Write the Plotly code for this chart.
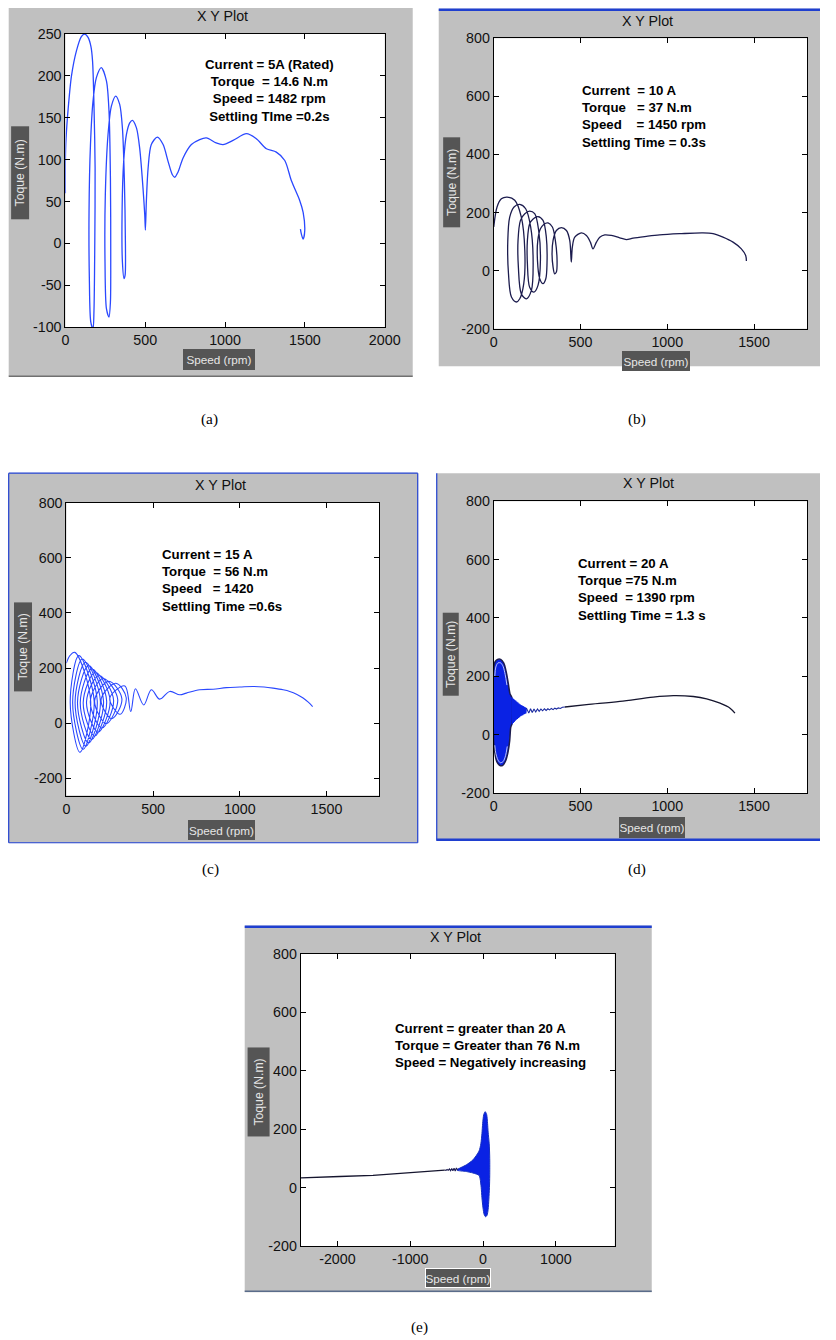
import plotly.graph_objects as go

W, H = 836, 1340
# the displayed page is slightly rescaled/offset against the figure canvas; layout
# positions below are given in final picture pixels and mapped through fx / fy
XA, XB = 0.976, 4.3
YA, YB = 0.9893, 7.2
FONT_K = 1.02

# ---------------- data ----------------
# (a) rated current, 5 A
a_speed = [0, 0, 4, 17, 38, 69, 100, 121, 142, 160, 170, 179, 186, 184, 179, 173, 159, 150, 148, 157,
           173, 194, 225, 257, 273, 282, 284, 282, 273, 257, 248, 250, 267, 288, 315, 340, 357, 369, 376, 374,
           367, 357, 355, 365, 382, 403, 420, 445, 465, 486, 497, 501, 507, 518, 538, 576, 612, 643, 670, 685,
           705, 737, 789, 841, 883, 944, 987, 1050, 1134, 1196, 1259, 1321, 1374, 1415, 1468, 1489, 1499, 1489, 1478, 1472]
a_torque = [60, 100, 125, 160, 200, 230, 247, 250, 246, 235, 218, 165, 90, 0, -80, -102, -94, -42, 38, 118,
            170, 198, 210, 194, 158, 78, -22, -70, -88, -78, -22, 58, 130, 164, 176, 166, 138, 78, -2, -38,
            -42, -22, 38, 98, 130, 144, 147, 138, 114, 66, 34, 16, 50, 90, 118, 127, 118, 98, 82, 79,
            85, 102, 118, 124, 126, 120, 118, 123, 131, 125, 113, 109, 99, 75, 51, 37, 15, 5, 11, 17]

# (b) 10 A
b_speed = [0, 19, 44, 77, 121, 159, 179, 173, 150, 131, 102, 85, 81, 92, 117, 150, 184, 213, 227, 217,
           188, 159, 142, 140, 154, 179, 207, 236, 259, 269, 255, 232, 207, 194, 194, 207, 227, 255, 284, 303,
           307, 300, 284, 265, 252, 254, 269, 288, 313, 338, 355, 365, 361, 351, 342, 336, 342, 361, 390, 419,
           438, 447, 453, 467, 505, 534, 557, 572, 592, 611, 640, 678, 726, 764, 803, 880, 956, 1072, 1206, 1264,
           1321, 1379, 1427, 1452, 1456]
b_torque = [150, 219, 247, 253, 242, 184, 70, -45, -97, -108, -91, -11, 104, 184, 219, 228, 213, 150, 35, -68,
            -97, -80, 12, 104, 173, 196, 205, 196, 138, 35, -51, -74, -57, 24, 104, 161, 178, 186, 173, 115,
            24, -28, -45, -28, 35, 104, 144, 159, 164, 150, 104, 35, -5, -11, 12, 58, 104, 138, 148, 138,
            104, 29, 81, 115, 130, 121, 98, 75, 98, 115, 123, 121, 113, 107, 112, 118, 123, 127, 130, 127,
            115, 98, 75, 52, 33]

# (c) 15 A
c_speed = [0, 20, 48, 140, 78, 22, 72, 160, 96, 36, 92, 178, 112, 50, 110, 196, 128, 64, 128, 214,
           145, 80, 147, 232, 163, 97, 167, 252, 183, 116, 188, 272, 205, 138, 212, 296, 230, 163, 245, 320,
           262, 200, 285, 345, 310, 250, 337, 371, 398, 446, 490, 538, 596, 654, 692, 769, 846, 923, 1000, 1077,
           1140, 1192, 1250, 1288, 1330, 1365, 1395, 1420]
c_torque = [218, 245, 257, 80, -106, 75, 245, 80, -95, 75, 233, 80, -84, 75, 221, 80, -72, 75, 209, 80,
            -60, 75, 197, 80, -47, 75, 185, 82, -33, 77, 173, 84, -18, 79, 162, 86, -2, 82, 152, 88,
            16, 85, 145, 92, 32, 90, 135, 42, 125, 66, 121, 87, 115, 103, 109, 121, 123, 129, 131, 133,
            131, 127, 121, 115, 104, 91, 76, 60]

# (d) 20 A : dense start-up envelope, decaying ripple, settled curve
d_blob_speed = [0, 8, 22, 40, 58, 72, 84, 94, 104, 106, 98, 92, 82, 68, 50, 32, 16, 6, 0, 0]
d_blob_torque = [230, 250, 258, 258, 245, 215, 175, 140, 128, 40, 25, -20, -60, -90, -106, -104, -90, -60, -30, 230]
d_ring_speed = [6, 12, 24, 40, 54, 66, 76, None, 78, 68, 54, 38, 24, 12, 6]
d_ring_torque = [200, 232, 246, 246, 234, 206, 170, None, -40, -72, -92, -96, -86, -64, -36]
d_comb_speed = [104, 107, 110, 113, 116, 119, 122, 125, 128, 131, 134, 137, 140, 143, 146, 149, 152, 155,
                158, 161, 164, 167, 170, 173, 176, 179, 182, 185, 188]
d_comb_torque = [128, 36, 125, 40, 122, 44, 119, 48, 116, 51, 113, 54, 110, 57, 107, 60, 104, 63,
                 102, 65, 100, 67, 98, 69, 96, 71, 94, 73, 92]
d_zig_speed = [188, 202, 212, 222, 232, 242, 252, 262, 272, 282, 292, 302, 312, 322, 332, 342, 352, 362,
               372, 384, 396, 410]
d_zig_torque = [92, 74, 89, 76, 88, 78, 88, 80, 88, 82, 89, 83, 89, 85, 90, 86, 91, 88, 92, 90, 94, 95]
d_line_speed = [410, 535, 727, 919, 1035, 1150, 1227, 1304, 1362, 1390]
d_line_torque = [95, 103, 114, 129, 134, 131, 123, 108, 91, 74]

# (e) above 20 A : motor runs away in the negative direction
e_blob_speed = [30, 50, 62, 70, 85, 92, 92, 88, 80, 70, 55, 35, 15, 0, -15, -25, -40, -55,
                -138, -229, -360, -229, -138, -55, -30, -15, -5, 10, 30]
e_blob_torque = [260, 250, 220, 190, 150, 100, 40, 0, -40, -75, -95, -100, -92, -70, -35, 0, 30, 42,
                 50, 55, 60, 78, 95, 125, 150, 185, 220, 250, 260]
e_zig_speed = [-350, -366, -382, -398, -414, -430, -446, -462, -478, -494, -510, -526]
e_zig_torque = [61, 67, 57, 66, 58, 65, 58, 64, 59, 62, 59, 60]
e_line_speed = [-526, -824, -1053, -1511, -1969, -2106, -2500]
e_line_torque = [60, 55, 49, 42, 38, 37, 33]

# text blocks
a_note = "Current = 5A (Rated)<br>Torque  = 14.6 N.m<br>Speed = 1482 rpm<br>Settling TIme =0.2s"
b_note = "Current  = 10 A<br>Torque   = 37 N.m<br>Speed    = 1450 rpm<br>Settling Time = 0.3s"
c_note = "Current = 15 A<br>Torque  = 56 N.m<br>Speed   = 1420<br>Settling Time =0.6s"
d_note = "Current = 20 A<br>Torque =75 N.m<br>Speed  = 1390 rpm<br>Settling Time = 1.3 s"
e_note = "Current = greater than 20 A<br>Torque = Greater than 76 N.m<br>Speed = Negatively increasing"

# ---------------- helpers ----------------
def clamp(v):
    return min(1.0, max(0.0, v))


def fx(px):
    return clamp(((px - XB) / XA) / W)


def fy(py):
    return clamp(1 - ((py - YB) / YA) / H)


def fs(size):
    return round(size * FONT_K, 2)


GRAY = "#c0c0c0"
FRAME_BLUE = "#1f3fcf"
LABEL_BOX = "#555555"
TICK_FONT = dict(family="Liberation Sans, Arial, sans-serif", size=fs(14), color="#111111")
NOTE_FONT = dict(family="Liberation Sans, Arial, sans-serif", size=fs(13), color="#000000", weight="bold")

fig = go.Figure()
shapes = []
annotations = []

panels = [
    dict(plot=(65.7, 33.3, 385.0, 326.7), xr=[0, 2000], yr=[-100, 250],
         xt=[0, 500, 1000, 1500, 2000], yt=[-100, -50, 0, 50, 100, 150, 200, 250],
         bg=(9, 5, 413, 376), title=(223, 15), note=a_note, note_pos=(270, 89.5), note_align="center",
         xlab=(219, 359.5, 68, 19), ylab=(20, 172, 92, 18), cap=("(a)", 210, 419)),
    dict(plot=(494.0, 37.5, 807.7, 328.3), xr=[0, 1808], yr=[-200, 800],
         xt=[0, 500, 1000, 1500], yt=[-200, 0, 200, 400, 600, 800],
         bg=(439, 8, 840, 366), title=(648, 20), note=b_note, note_pos=(580.7, 115.5), note_align="left",
         xlab=(656, 361, 64, 18), ylab=(451.5, 181.5, 89, 17), cap=("(b)", 637, 419)),
    dict(plot=(66.7, 502.7, 379.3, 795.7), xr=[0, 1803], yr=[-263, 800],
         xt=[0, 500, 1000, 1500], yt=[-200, 0, 200, 400, 600, 800],
         bg=(9, 473, 418, 843), title=(221, 485), note=c_note, note_pos=(160, 580.2), note_align="left",
         xlab=(221.5, 830, 63, 18), ylab=(23, 646.7, 88, 18), cap=("(c)", 211, 869)),
    dict(plot=(494.0, 501.0, 807.7, 793.3), xr=[0, 1808], yr=[-200, 800],
         xt=[0, 500, 1000, 1500], yt=[-200, 0, 200, 400, 600, 800],
         bg=(437, 473, 840, 841), title=(649, 483), note=d_note, note_pos=(576.7, 589.2), note_align="left",
         xlab=(652.5, 827.3, 62, 19), ylab=(451, 654, 82, 16), cap=("(d)", 637, 869)),
    dict(plot=(301.0, 954.5, 615.0, 1246.7), xr=[-2504, 1809], yr=[-200, 800],
         xt=[-2000, -1000, 0, 1000], yt=[-200, 0, 200, 400, 600, 800],
         bg=(245, 926, 652, 1293), title=(456, 937), note=e_note, note_pos=(393.3, 1045.7), note_align="left",
         xlab=(458.3, 1279, 62, 18), ylab=(258.8, 1092.5, 88, 21), cap=("(e)", 420, 1328)),
]

layout_axes = {}
for i, p in enumerate(panels):
    n = "" if i == 0 else str(i + 1)
    l, t, r, b = p["plot"]
    common = dict(showgrid=False, zeroline=False, showline=True, linecolor="#000000", linewidth=1,
                  mirror="ticks", ticks="inside", ticklen=5, tickcolor="#000000", tickwidth=1,
                  tickfont=TICK_FONT, fixedrange=True)
    layout_axes["xaxis" + n] = dict(domain=[fx(l), fx(r)], range=p["xr"], anchor="y" + n,
                                    tickvals=p["xt"], ticktext=[str(v) for v in p["xt"]], **common)
    layout_axes["yaxis" + n] = dict(domain=[fy(b), fy(t)], range=p["yr"], anchor="x" + n,
                                    tickvals=p["yt"], ticktext=[str(v) for v in p["yt"]], **common)

    # grey figure window and white axes area
    bl, bt, br, bb = p["bg"]
    shapes.append(dict(type="rect", xref="paper", yref="paper", x0=fx(bl), x1=fx(br), y0=fy(bb), y1=fy(bt),
                       fillcolor=GRAY, line=dict(width=0), layer="below"))
    shapes.append(dict(type="rect", xref="paper", yref="paper", x0=fx(l), x1=fx(r), y0=fy(b), y1=fy(t),
                       fillcolor="#ffffff", line=dict(width=0), layer="below"))

    # title
    tx, ty = p["title"]
    annotations.append(dict(x=fx(tx), y=fy(ty), xref="paper", yref="paper", text="X Y Plot",
                            showarrow=False, xanchor="center", yanchor="middle",
                            font=dict(family="Liberation Sans, Arial, sans-serif", size=fs(14), color="#111111")))
    # note block
    nx, ny = p["note_pos"]
    annotations.append(dict(x=fx(nx), y=fy(ny), xref="paper", yref="paper", text=p["note"],
                            showarrow=False, xanchor="center" if p["note_align"] == "center" else "left",
                            yanchor="middle", align=p["note_align"], font=NOTE_FONT))
    # axis label boxes
    lx, ly, lw, lh = p["xlab"]
    annotations.append(dict(x=fx(lx), y=fy(ly), xref="paper", yref="paper", text="Speed (rpm)",
                            showarrow=False, xanchor="center", yanchor="middle",
                            width=round(lw / XA), height=round(lh / YA),
                            bgcolor=LABEL_BOX, borderpad=0,
                            bordercolor="#ffffff" if i == 4 else LABEL_BOX, borderwidth=1,
                            font=dict(family="Liberation Sans, Arial, sans-serif", size=fs(11.5), color="#e6e6e6")))
    yx, yy, yw, yh = p["ylab"]
    annotations.append(dict(x=fx(yx), y=fy(yy), xref="paper", yref="paper", text="Toque (N.m)",
                            showarrow=False, xanchor="center", yanchor="middle",
                            width=round(yw / YA), height=round(yh / XA),
                            textangle=-90, bgcolor=LABEL_BOX, borderpad=0, borderwidth=0,
                            font=dict(family="Liberation Sans, Arial, sans-serif", size=fs(12), color="#e6e6e6")))
    # caption
    ct, cx, cy = p["cap"]
    annotations.append(dict(x=fx(cx), y=fy(cy), xref="paper", yref="paper", text=ct, showarrow=False,
                            xanchor="center", yanchor="middle",
                            font=dict(family="Liberation Serif, Times New Roman, serif", size=fs(15), color="#000000")))

# window edges
edge_lines = [
    ((9, 376), (413, 376), "#707070", 1.5),
    ((439, 9), (840, 9), FRAME_BLUE, 2.5),
    ((9, 473), (418, 473), FRAME_BLUE, 1.2),
    ((9, 843), (418, 843), FRAME_BLUE, 1.2),
    ((9, 473), (9, 843), FRAME_BLUE, 1.2),
    ((418, 473), (418, 843), FRAME_BLUE, 1.2),
    ((437, 473), (437, 841), FRAME_BLUE, 1.2),
    ((437, 840), (840, 840), FRAME_BLUE, 2.5),
    ((245, 927), (652, 927), FRAME_BLUE, 2.5),
    ((245, 1292), (652, 1292), "#5a6c8a", 1.5),
]
for (x0, y0), (x1, y1), col, w in edge_lines:
    shapes.append(dict(type="line", xref="paper", yref="paper", x0=fx(x0), y0=fy(y0), x1=fx(x1), y1=fy(y1),
                       line=dict(color=col, width=w), layer="below"))

# ---------------- traces ----------------
BLUE_A = "#2a48ff"
NAVY = "#1c1c4e"
BLOB = "#0a22e4"

fig.add_trace(go.Scatter(x=a_speed, y=a_torque, mode="lines", xaxis="x", yaxis="y",
                         line=dict(color=BLUE_A, width=1.3, shape="spline", smoothing=0.8)))
fig.add_trace(go.Scatter(x=b_speed, y=b_torque, mode="lines", xaxis="x2", yaxis="y2",
                         line=dict(color=NAVY, width=1.3, shape="spline", smoothing=0.9)))
fig.add_trace(go.Scatter(x=c_speed, y=c_torque, mode="lines", xaxis="x3", yaxis="y3",
                         line=dict(color=BLUE_A, width=1.1, shape="spline", smoothing=1.0)))

fig.add_trace(go.Scatter(x=d_blob_speed, y=d_blob_torque, mode="lines", xaxis="x4", yaxis="y4",
                         fill="toself", fillcolor=BLOB,
                         line=dict(color=NAVY, width=1.5, shape="spline", smoothing=0.8)))
fig.add_trace(go.Scatter(x=d_ring_speed, y=d_ring_torque, mode="lines", xaxis="x4", yaxis="y4",
                         line=dict(color="#e8ecff", width=0.8, shape="spline", smoothing=0.8)))
fig.add_trace(go.Scatter(x=d_comb_speed, y=d_comb_torque, mode="lines", xaxis="x4", yaxis="y4",
                         line=dict(color=BLOB, width=1.2)))
fig.add_trace(go.Scatter(x=d_zig_speed, y=d_zig_torque, mode="lines", xaxis="x4", yaxis="y4",
                         line=dict(color="#1a2aa0", width=1.1)))
fig.add_trace(go.Scatter(x=d_line_speed, y=d_line_torque, mode="lines", xaxis="x4", yaxis="y4",
                         line=dict(color="#15152e", width=1.3, shape="spline")))

fig.add_trace(go.Scatter(x=e_blob_speed, y=e_blob_torque, mode="lines", xaxis="x5", yaxis="y5",
                         fill="toself", fillcolor=BLOB,
                         line=dict(color="#1530c0", width=1.0, shape="spline", smoothing=0.7)))
fig.add_trace(go.Scatter(x=e_zig_speed, y=e_zig_torque, mode="lines", xaxis="x5", yaxis="y5",
                         line=dict(color="#1a1a50", width=1.1)))
fig.add_trace(go.Scatter(x=e_line_speed, y=e_line_torque, mode="lines", xaxis="x5", yaxis="y5",
                         line=dict(color="#15152e", width=1.3)))

fig.update_layout(
    width=W, height=H, margin=dict(l=0, r=0, t=0, b=0),
    paper_bgcolor="#ffffff", plot_bgcolor="rgba(0,0,0,0)",
    showlegend=False, shapes=shapes, annotations=annotations,
    **layout_axes,
)

fig.write_html("out.html")
